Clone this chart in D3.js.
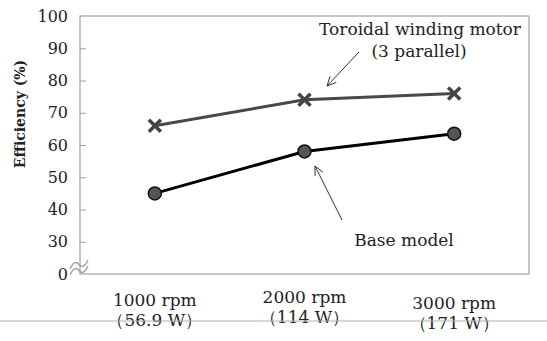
<!DOCTYPE html>
<html>
<head>
<meta charset="utf-8">
<script src="https://cdn.jsdelivr.net/npm/d3@7"></script>
<style>
  body { margin: 0; background: #fff; }
  svg text { font-family: "DejaVu Serif", serif; fill: #222; }
</style>
</head>
<body>
<svg id="chart" width="547" height="341"></svg>
<script>
// categories (two-line labels)
var categories = ["1000 rpm", "2000 rpm", "3000 rpm"];
var powerLabels = ["（56.9 W）", "（114 W）", "（171 W）"];
// efficiency values (%)
var toroidal = [66, 74, 76];
var baseModel = [45, 58, 63.5];
// y ticks: the bottom tick is drawn as "0" because of the axis break
var yTicks = [20, 30, 40, 50, 60, 70, 80, 90, 100];
var yTickLabels = ["0", "30", "40", "50", "60", "70", "80", "90", "100"];

var svg = d3.select("#chart");
var margin = {top: 16, right: 18, bottom: 67, left: 80};
var width = 547 - margin.left - margin.right;
var height = 341 - margin.top - margin.bottom;

var panel = svg.append("g")
    .attr("transform", "translate(" + margin.left + "," + margin.top + ")");

var xScale = d3.scaleBand()
    .domain(categories)
    .range([0, width]);

var yScale = d3.scaleLinear()
    .domain([20, 100])
    .range([height, 0]);

// frame
panel.append("rect")
    .attr("x", 0).attr("y", 0)
    .attr("width", width).attr("height", height)
    .attr("fill", "none")
    .attr("stroke", "#a0a0a0")
    .attr("stroke-width", 1.2);

// y axis, ticks point inward
var yAxis = d3.axisRight(yScale)
    .tickValues(yTicks)
    .tickSize(6)
    .tickFormat(function (d, i) { return yTickLabels[i]; });

var yg = panel.append("g").call(yAxis);
yg.select(".domain").remove();
yg.selectAll("line").attr("stroke", "#a0a0a0");
yg.selectAll("text")
    .attr("x", -12)
    .attr("text-anchor", "end")
    .style("font-size", "16px")
    .attr("fill", "#222");
yg.selectAll(".tick").filter(function (d) { return d === 20 || d === 100; })
    .select("line").remove();

// axis break symbol
var breakY = yScale(22.8);
[0, 6].forEach(function (off) {
    panel.append("path")
        .attr("d", "M-10," + (breakY + off + 4) +
            " q4.5,-10 9,-4.5 q4.5,5.5 9,-4.5")
        .attr("fill", "none")
        .attr("stroke", "#a0a0a0")
        .attr("stroke-width", 1.3);
});

// x labels
categories.forEach(function (c, i) {
    var cx = xScale(c) + xScale.bandwidth() / 2;
    var dy = [0, -3, 3][i];
    panel.append("text")
        .attr("x", cx).attr("y", height + 32 + dy)
        .attr("text-anchor", "middle")
        .style("font-size", "17px")
        .text(c);
    panel.append("text")
        .attr("x", cx).attr("y", height + 52 + dy)
        .attr("text-anchor", "middle")
        .style("font-size", "17px")
        .text(powerLabels[i]);
});

// thin gray rule under the chart
svg.append("line")
    .attr("x1", 0).attr("x2", 547)
    .attr("y1", 321).attr("y2", 321)
    .attr("stroke", "#b0b0b0")
    .attr("stroke-width", 1);

// y axis title
svg.append("text")
    .attr("transform", "translate(25," + (margin.top + 98) + ") rotate(-90)")
    .attr("text-anchor", "middle")
    .style("font-size", "14px")
    .style("font-weight", "bold")
    .text("Efficiency (%)");

var line = d3.line()
    .x(function (d, i) { return xScale(categories[i]) + xScale.bandwidth() / 2; })
    .y(function (d) { return yScale(d); });

// toroidal winding motor
panel.append("path")
    .datum(toroidal)
    .attr("d", line)
    .attr("fill", "none")
    .attr("stroke", "#484848")
    .attr("stroke-width", 3);

panel.selectAll(".xmark")
    .data(toroidal)
    .enter()
    .append("path")
    .attr("class", "xmark")
    .attr("transform", function (d, i) {
        return "translate(" + (xScale(categories[i]) + xScale.bandwidth() / 2) + "," + yScale(d) + ")";
    })
    .attr("d", "M-6,-6L6,6M-6,6L6,-6")
    .attr("stroke", "#444")
    .attr("stroke-width", 3.5);

// base model
panel.append("path")
    .datum(baseModel)
    .attr("d", line)
    .attr("fill", "none")
    .attr("stroke", "#000")
    .attr("stroke-width", 3);

panel.selectAll(".dot")
    .data(baseModel)
    .enter()
    .append("circle")
    .attr("class", "dot")
    .attr("cx", function (d, i) { return xScale(categories[i]) + xScale.bandwidth() / 2; })
    .attr("cy", function (d) { return yScale(d); })
    .attr("r", 6.5)
    .attr("fill", "#555")
    .attr("stroke", "#111")
    .attr("stroke-width", 1.5);

// annotations
function arrow(x1, y1, x2, y2) {
    var a = Math.atan2(y2 - y1, x2 - x1);
    var len = 10, spread = 0.45;
    svg.append("path")
        .attr("d", "M" + x1 + "," + y1 + "L" + x2 + "," + y2 +
            "M" + (x2 - len * Math.cos(a - spread)) + "," + (y2 - len * Math.sin(a - spread)) +
            "L" + x2 + "," + y2 +
            "L" + (x2 - len * Math.cos(a + spread)) + "," + (y2 - len * Math.sin(a + spread)))
        .attr("fill", "none")
        .attr("stroke", "#333")
        .attr("stroke-width", 1);
}

svg.append("text")
    .attr("x", 420).attr("y", 35)
    .attr("text-anchor", "middle")
    .style("font-size", "17px")
    .text("Toroidal winding motor");
svg.append("text")
    .attr("x", 419).attr("y", 57)
    .attr("text-anchor", "middle")
    .style("font-size", "17px")
    .text("(3 parallel)");
arrow(359, 52, 327, 86);

svg.append("text")
    .attr("x", 404).attr("y", 246)
    .attr("text-anchor", "middle")
    .style("font-size", "17px")
    .text("Base model");
arrow(342, 220, 315, 166);
</script>
</body>
</html>
